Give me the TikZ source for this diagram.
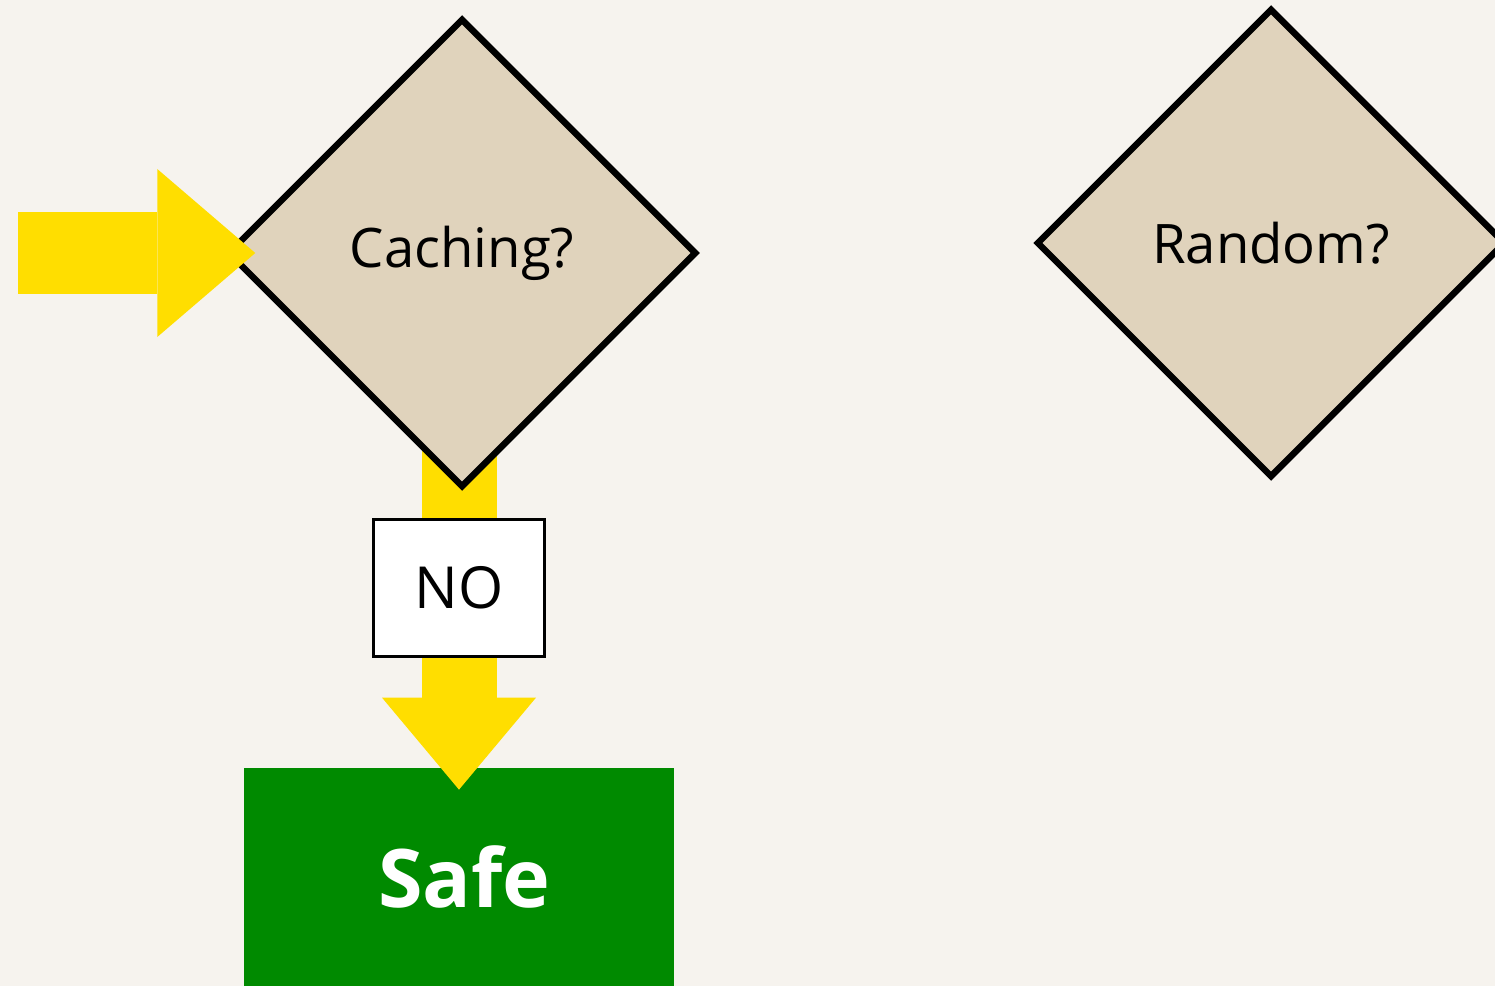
\documentclass[tikz,border=0pt]{standalone}
\usepackage{fontspec}
\setmainfont{Open Sans}
\usetikzlibrary{shapes.geometric,arrows.meta,backgrounds}
\definecolor{paper}{HTML}{F6F3EE}
\definecolor{sand}{HTML}{E0D3BC}
\definecolor{signal}{HTML}{FFDE00}
\definecolor{safegreen}{HTML}{008A00}
\begin{document}
\begin{tikzpicture}[
decision/.style={draw, diamond, fill=sand, line width=0.13cm, inner sep=0pt, minimum width=9.38cm, minimum height=9.38cm, font=\fontsize{31}{36}\selectfont},
answer/.style={draw=black, fill=white, line width=0.06cm, minimum width=3.42cm, minimum height=2.74cm, font=\fontsize{33}{38}\selectfont},
result/.style={fill=safegreen, text=white, minimum width=8.6cm, minimum height=4.36cm, font=\fontsize{46}{52}\selectfont\bfseries},
flow/.style n args={3}{draw=signal, line width=#1, -{Triangle[width=#2, length=#3, line width=0pt]}}
]
\useasboundingbox (0,0) rectangle (29.9,-19.72);
\begin{scope}[on background layer]
\fill[paper] (0,0) rectangle (29.9,-19.72);
\node[result] (safe) at (9.18,-17.54) {\hspace*{0.22cm}Safe};
\end{scope}

\node[decision] (caching) at (9.24,-5.06) {Caching?};
\node[decision] (random) at (25.42,-4.86) {Random?};

\begin{scope}[on background layer]
\draw[flow={1.5cm}{3.08cm}{1.84cm}, shorten <=-0.8cm, shorten >=-0.44cm]
  (safe.north |- caching.south) -- node[answer, pos=0.35] (no) {NO} (safe.north);
\end{scope}

\coordinate (entry) at (0.36,-5.06);
\draw[flow={1.64cm}{3.36cm}{1.96cm}, shorten >=-0.62cm] (entry) -- (caching.west);
\end{tikzpicture}
\end{document}
